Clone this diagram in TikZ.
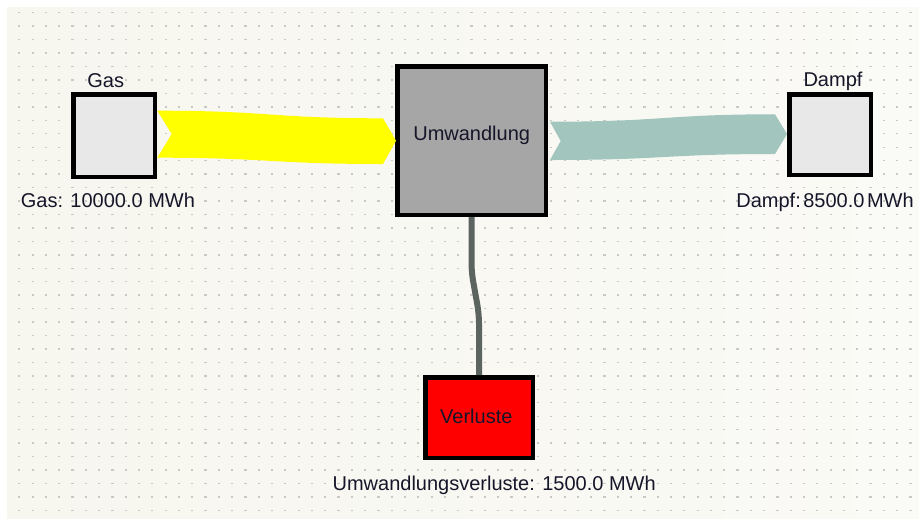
\documentclass[tikz,border=0pt]{standalone}
\usepackage{fontspec}
\setmainfont{Liberation Sans}
\usetikzlibrary{calc}

\definecolor{canvasL}{HTML}{F7F6EF}
\definecolor{canvasR}{HTML}{FAFAF6}
\definecolor{griddot}{HTML}{C9C9C3}
\definecolor{boxlight}{HTML}{E8E8E8}
\definecolor{boxgrey}{HTML}{A6A6A6}
\definecolor{lossred}{HTML}{FF0000}
\definecolor{gasflow}{HTML}{FFFF00}
\definecolor{steamflow}{HTML}{A2C5BD}
\definecolor{lossflow}{HTML}{5C6460}
\definecolor{ink}{HTML}{16162A}

\begin{document}
\begin{tikzpicture}[x=1pt,y=-1pt,
  every node/.style={font=\fontsize{20}{24}\selectfont, text=ink},
  flowbox/.style={draw=black, line width=4.5pt, inner sep=0pt},
  caption/.style={anchor=base, inner sep=0pt},
  lossline/.style={draw=lossflow, line width=6pt, rounded corners=9pt}]

\useasboundingbox (0,0) rectangle (919,523);

% canvas with dot grid
\fill[white] (0,0) rectangle (919,523);
\shade[left color=canvasL, right color=canvasR] (7,7) rectangle (919,518);
\foreach \i in {0,...,67} {
  \foreach \j in {0,...,37} {
    \fill[griddot] ({19.3+13.3*\i-1.1},{12.7+13.45*\j-0.7}) rectangle ++(2.2,1.4);
  }
}

% process boxes
\node[flowbox, fill=boxlight, minimum width=81.5pt, minimum height=82.5pt] (gas) at (114,135.5) {};
\node[flowbox, fill=boxgrey, minimum width=148.5pt, minimum height=148.5pt] (conv) at (471.5,140.5) {};
\node[flowbox, fill=boxlight, minimum width=81.5pt, minimum height=80.5pt] (steam) at (830,134.5) {};
\node[flowbox, fill=lossred, minimum width=107.5pt, minimum height=80.5pt] (loss) at (479,417.5) {};

% gas flow into the conversion
\fill[gasflow]
  ($(gas.east)+(0.3,-24.8)$) .. controls (270,110.7) and (270,118.3) .. ($(conv.west)+(-12,-22.2)$)
  -- ($(conv.west)+(1,0.2)$)
  -- ($(conv.west)+(-12,23.5)$) .. controls (270,164) and (270,157.7) .. ($(gas.east)+(0.3,22.2)$)
  -- ($(gas.east)+(14.7,-1.5)$) -- cycle;

% steam flow out of the conversion
\fill[steamflow]
  ($(conv.east)+(2,-18.8)$) .. controls (665,121.7) and (665,114.3) .. ($(steam.west)+(-12,-20.2)$)
  -- ($(steam.west)+(0,-0.5)$)
  -- ($(steam.west)+(-12,19.5)$) .. controls (665,154) and (665,160) .. ($(conv.east)+(2,19.5)$)
  -- ($(conv.east)+(12.7,0.5)$) -- cycle;

% loss line with a small jog
\draw[lossline] (conv.south) -- ($(conv.south)+(0,55)$)
  -- ($(loss.north)+(0,-61)$) -- (loss.north);

% texts
\node[caption] (gaslabel) at (105.7,87.3) {Gas};
\node[caption] (gasvalue) at (107.9,207.5) {Gas: 10000.0 MWh};
\node[caption] (convtext) at (471.7,140.7) {Umwandlung};
\node[caption] (steamlabel) at (833,86.7) {Dampf};
\node[caption, anchor=base west] (steamvalue) at (736.2,207.7) {Dampf:\hspace{2.5pt}8500.0\hspace{2.5pt}MWh};
\node[caption] (losstext) at (476.3,423.3) {Verluste};
\node[caption] (lossvalue) at (494.2,490) {Umwandlungsverluste: 1500.0 MWh};
\end{tikzpicture}
\end{document}
